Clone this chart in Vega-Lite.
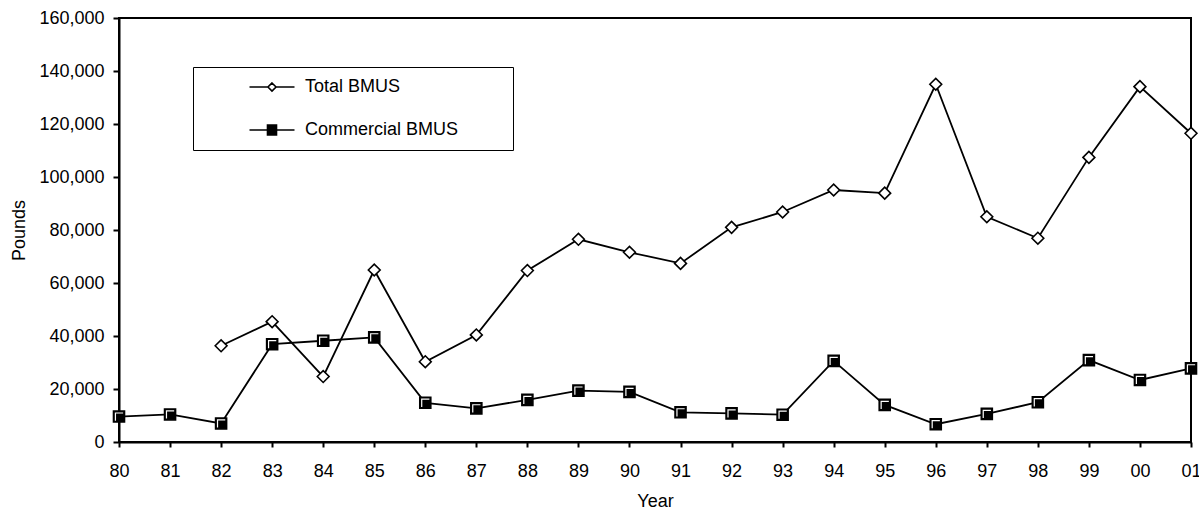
{
  "$schema": "https://vega.github.io/schema/vega-lite/v6.json",
  "width": 1072,
  "height": 424,
  "autosize": "none",
  "padding": {"left": 119, "top": 18, "right": 8, "bottom": 66},
  "background": "white",
  "config": {
    "font": "Liberation Sans",
    "view": {"stroke": "black", "strokeWidth": 2},
    "axis": {
      "domainColor": "black", "domainWidth": 2, "tickColor": "black", "tickWidth": 2,
      "labelColor": "black", "titleColor": "black", "labelFontSize": 18, "titleFontSize": 18,
      "titleFontWeight": "normal", "grid": false, "labelFont": "Liberation Sans", "titleFont": "Liberation Sans"
    }
  },
  "data": {
    "values": [
      {"year": "80", "series": "Commercial BMUS", "pounds": 9600},
      {"year": "81", "series": "Commercial BMUS", "pounds": 10400},
      {"year": "82", "series": "Commercial BMUS", "pounds": 7000},
      {"year": "83", "series": "Commercial BMUS", "pounds": 36900},
      {"year": "84", "series": "Commercial BMUS", "pounds": 38200},
      {"year": "85", "series": "Commercial BMUS", "pounds": 39500},
      {"year": "86", "series": "Commercial BMUS", "pounds": 14800},
      {"year": "87", "series": "Commercial BMUS", "pounds": 12700},
      {"year": "88", "series": "Commercial BMUS", "pounds": 15900},
      {"year": "89", "series": "Commercial BMUS", "pounds": 19400},
      {"year": "90", "series": "Commercial BMUS", "pounds": 18900},
      {"year": "91", "series": "Commercial BMUS", "pounds": 11200},
      {"year": "92", "series": "Commercial BMUS", "pounds": 10800},
      {"year": "93", "series": "Commercial BMUS", "pounds": 10300},
      {"year": "94", "series": "Commercial BMUS", "pounds": 30600},
      {"year": "95", "series": "Commercial BMUS", "pounds": 14000},
      {"year": "96", "series": "Commercial BMUS", "pounds": 6700},
      {"year": "97", "series": "Commercial BMUS", "pounds": 10600},
      {"year": "98", "series": "Commercial BMUS", "pounds": 15000},
      {"year": "99", "series": "Commercial BMUS", "pounds": 30900},
      {"year": "00", "series": "Commercial BMUS", "pounds": 23400},
      {"year": "01", "series": "Commercial BMUS", "pounds": 27800},
      {"year": "82", "series": "Total BMUS", "pounds": 36300},
      {"year": "83", "series": "Total BMUS", "pounds": 45400},
      {"year": "84", "series": "Total BMUS", "pounds": 24700},
      {"year": "85", "series": "Total BMUS", "pounds": 64900},
      {"year": "86", "series": "Total BMUS", "pounds": 30300},
      {"year": "87", "series": "Total BMUS", "pounds": 40400},
      {"year": "88", "series": "Total BMUS", "pounds": 64700},
      {"year": "89", "series": "Total BMUS", "pounds": 76500},
      {"year": "90", "series": "Total BMUS", "pounds": 71600},
      {"year": "91", "series": "Total BMUS", "pounds": 67400},
      {"year": "92", "series": "Total BMUS", "pounds": 81000},
      {"year": "93", "series": "Total BMUS", "pounds": 86800},
      {"year": "94", "series": "Total BMUS", "pounds": 95100},
      {"year": "95", "series": "Total BMUS", "pounds": 93900},
      {"year": "96", "series": "Total BMUS", "pounds": 135000},
      {"year": "97", "series": "Total BMUS", "pounds": 85000},
      {"year": "98", "series": "Total BMUS", "pounds": 76900},
      {"year": "99", "series": "Total BMUS", "pounds": 107400},
      {"year": "00", "series": "Total BMUS", "pounds": 134100},
      {"year": "01", "series": "Total BMUS", "pounds": 116500}
    ]
  },
  "encoding": {
    "x": {
      "field": "year", "type": "ordinal",
      "scale": {"type": "point", "padding": 0, "domain": ["80","81","82","83","84","85","86","87","88","89","90","91","92","93","94","95","96","97","98","99","00","01"]},
      "axis": {"title": "Year", "labelAngle": 0, "tickSize": 5, "labelPadding": 15, "titlePadding": 12}
    },
    "y": {
      "field": "pounds", "type": "quantitative",
      "scale": {"domain": [0, 160000], "nice": false},
      "axis": {"title": "Pounds", "values": [0,20000,40000,60000,80000,100000,120000,140000,160000], "format": ",d", "tickSize": 6, "labelPadding": 9, "titlePadding": 10}
    }
  },
  "layer": [
    {
      "mark": {"type": "line", "color": "black", "strokeWidth": 1.8},
      "encoding": {"detail": {"field": "series"}}
    },
    {
      "mark": {"type": "point", "filled": true, "strokeWidth": 1.6, "opacity": 0},
      "encoding": {
        "shape": {
          "field": "series", "type": "nominal",
          "scale": {"domain": ["Total BMUS", "Commercial BMUS"], "range": ["M-5,0H-0.9M0.9,0H5M0,-0.9L0.9,0L0,0.9L-0.9,0Z", "M-5,0H-1M1,0H5M-1,-1.1H1V1.1H-1Z"]},
          "legend": {
            "title": "\u00a0", "titleOrient": "right", "titlePadding": 44, "titleFontSize": 18,
            "orient": "none", "legendX": 74, "legendY": 49,
            "strokeColor": "black", "padding": 11,
            "symbolSize": 81, "symbolStrokeColor": "black", "symbolStrokeWidth": 1.6, "symbolOpacity": 1,
            "symbolOffset": 59, "labelOffset": 24, "rowPadding": 25,
            "labelFontSize": 18, "labelColor": "black", "labelLimit": 400,
            "encode": {"legend": {"strokeWidth": {"value": 1.5}}}
          }
        },
        "fill": {
          "field": "series", "type": "nominal",
          "scale": {"domain": ["Total BMUS", "Commercial BMUS"], "range": ["white", "black"]}
        },
        "stroke": {
          "field": "series", "type": "nominal",
          "scale": {"domain": ["Total BMUS", "Commercial BMUS"], "range": ["black", "black"]}
        }
      }
    },
    {
      "mark": {"type": "point", "filled": true, "stroke": "black", "strokeWidth": 1.6, "opacity": 1},
      "encoding": {
        "shape": {"condition": {"test": "datum.series === 'Total BMUS'", "value": "diamond"}, "value": "square"},
        "fill": {"condition": {"test": "datum.series === 'Total BMUS'", "value": "white"}, "value": "black"},
        "size": {"condition": {"test": "datum.series === 'Total BMUS'", "value": 140}, "value": 121}
      }
    },
    {
      "transform": [{"filter": "datum.series === 'Commercial BMUS'"}],
      "mark": {"type": "point", "filled": false, "shape": "M-0.65,0.75V-0.65H0.75", "size": 121, "stroke": "white", "strokeWidth": 1.2, "opacity": 1}
    }
  ]
}
